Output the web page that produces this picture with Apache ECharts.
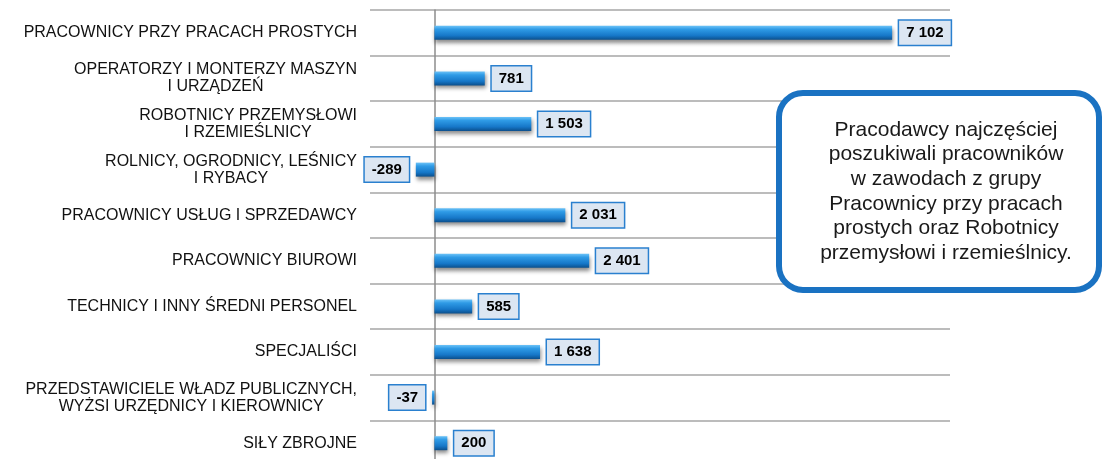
<!DOCTYPE html>
<html>
<head>
<meta charset="utf-8">
<script src="https://cdn.jsdelivr.net/npm/echarts@6/dist/echarts.min.js"></script>
<style>
html,body{margin:0;padding:0;background:#fff;}
#c{width:1104px;height:459px;}
</style>
</head>
<body>
<div id="c"></div>
<script>
var categories = [
  'PRACOWNICY PRZY PRACACH PROSTYCH',
  'OPERATORZY I MONTERZY MASZYN\nI URZĄDZEŃ',
  'ROBOTNICY PRZEMYSŁOWI\nI RZEMIEŚLNICY',
  'ROLNICY, OGRODNICY, LEŚNICY\nI RYBACY',
  'PRACOWNICY USŁUG I SPRZEDAWCY',
  'PRACOWNICY BIUROWI',
  'TECHNICY I INNY ŚREDNI PERSONEL',
  'SPECJALIŚCI',
  'PRZEDSTAWICIELE WŁADZ PUBLICZNYCH,\nWYŻSI URZĘDNICY I KIEROWNICY',
  'SIŁY ZBROJNE'
];
var values = [7102, 781, 1503, -289, 2031, 2401, 585, 1638, -37, 200];
var calloutLines = [
  'Pracodawcy najczęściej',
  'poszukiwali pracowników',
  'w zawodach z grupy',
  'Pracownicy przy pracach',
  'prostych oraz Robotnicy',
  'przemysłowi i rzemieślnicy.'
];

var FONT = '"Liberation Sans", Arial, sans-serif';
function fmt(v) {
  var s = String(Math.abs(v)).replace(/\B(?=(\d{3})+(?!\d))/g, ' ');
  return (v < 0 ? '-' : '') + s;
}

var barColor = new echarts.graphic.LinearGradient(0, 0, 0, 1, [
  {offset: 0, color: '#6cc2f7'},
  {offset: 0.25, color: '#2f9be6'},
  {offset: 0.7, color: '#1677c8'},
  {offset: 1, color: '#0b4f8c'}
]);

var data = values.map(function (v) {
  return {
    value: v,
    label: {position: v < 0 ? 'left' : 'right'}
  };
});

var chart = echarts.init(document.getElementById('c'), null, {renderer: 'canvas'});
chart.setOption({
  animation: false,
  backgroundColor: '#fff',
  grid: {left: 370, right: 154, top: 10, height: 456, containLabel: false, outerBoundsMode: 'none'},
  xAxis: {
    type: 'value',
    min: -1000,
    max: 8000,
    axisLabel: {show: false},
    axisLine: {show: false},
    axisTick: {show: false},
    splitLine: {show: false}
  },
  yAxis: {
    type: 'category',
    inverse: true,
    data: categories,
    axisLine: {show: true, onZero: true, lineStyle: {color: '#8c8c8c', width: 1.5}},
    axisTick: {show: false},
    splitLine: {show: true, lineStyle: {color: '#a6a6a6', width: 1.5}},
    axisLabel: {
      margin: 13,
      align: 'right',
      formatter: function (val) {
        return val.split('\n').map(function (l) { return '{c|' + l + '}'; }).join('\n');
      },
      rich: {
        c: {align: 'center', fontSize: 16, lineHeight: 17, color: '#111', fontFamily: FONT}
      }
    }
  },
  series: [{
    type: 'bar',
    data: data,
    barWidth: 14,
    itemStyle: {
      color: barColor,
      shadowColor: 'rgba(0,0,0,0.45)',
      shadowBlur: 4,
      shadowOffsetX: 1,
      shadowOffsetY: 3
    },
    label: {
      show: true,
      distance: 7,
      formatter: function (p) { return fmt(p.value); },
      fontFamily: FONT,
      fontSize: 15,
      fontWeight: 'bold',
      color: '#000',
      backgroundColor: '#dce6f2',
      borderColor: '#2a80cf',
      borderWidth: 1.5,
      padding: [4, 7, 4, 7],
      lineHeight: 16
    }
  }],
  graphic: [
    {
      type: 'rect',
      shape: {x: 779, y: 93, width: 320, height: 197, r: 24},
      style: {fill: '#fff', stroke: '#1a72c2', lineWidth: 6},
      z: 100
    },
    {
      type: 'text',
      x: 946,
      y: 191.5,
      style: {
        text: calloutLines.join('\n'),
        align: 'center',
        verticalAlign: 'middle',
        font: '21px ' + FONT,
        lineHeight: 24.6,
        fill: '#1a1a1a'
      },
      z: 101
    }
  ]
});
</script>
</body>
</html>
